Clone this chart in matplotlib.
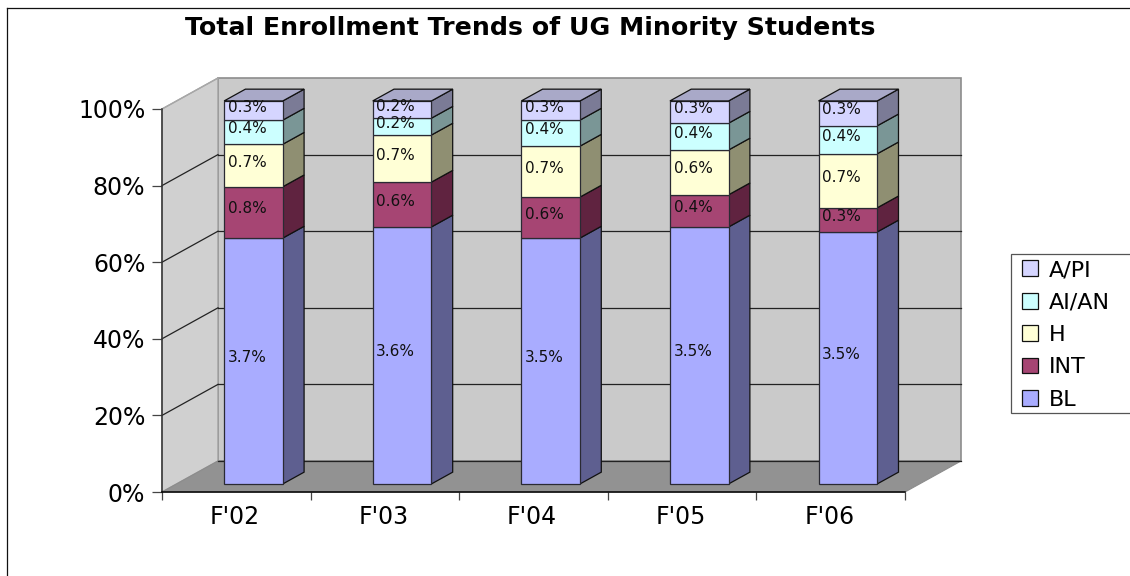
import matplotlib
matplotlib.use('Agg')
import matplotlib.pyplot as plt
from matplotlib.patches import Patch, Polygon, Rectangle

# values (share of the stacked bar, %)
years = ["F'02", "F'03", "F'04", "F'05", "F'06"]
series_names = ['BL', 'INT', 'H', 'AI/AN', 'A/PI']
bl = [64.2, 67.1, 64.2, 67.1, 65.8]
intl = [13.4, 11.7, 10.7, 8.4, 6.3]
hisp = [11.1, 12.3, 13.3, 11.7, 14.1]
ai_an = [6.3, 4.4, 6.8, 7.0, 7.3]
a_pi = [5.0, 4.5, 5.0, 5.8, 6.5]
# printed labels on the segments
bl_labels = ['3.7%', '3.6%', '3.5%', '3.5%', '3.5%']
int_labels = ['0.8%', '0.6%', '0.6%', '0.4%', '0.3%']
h_labels = ['0.7%', '0.7%', '0.7%', '0.6%', '0.7%']
ai_labels = ['0.4%', '0.2%', '0.4%', '0.4%', '0.4%']
api_labels = ['0.3%', '0.2%', '0.3%', '0.3%', '0.3%']
yticks = [0, 20, 40, 60, 80, 100]

series = [bl, intl, hisp, ai_an, a_pi]
labels = [bl_labels, int_labels, h_labels, ai_labels, api_labels]
front_colors = ['#A9ACFF', '#A64573', '#FFFFD6', '#CCFFFF', '#D5D5FF']
side_colors = ['#5E5F90', '#602340', '#8F8F72', '#7A9696', '#7B7B96']
top_color = '#A9A9C8'

W, H = 1130, 576
fig = plt.figure(figsize=(W / 100, H / 100), dpi=100, facecolor='white')
# the axes is the front plane of the fake 3D box
ax = fig.add_axes([162 / W, 1 - 492 / H, (905 - 162) / W, 383 / H])
ax.set_xlim(0, 5)
ax.set_ylim(0, 100)
ax.patch.set_visible(False)
for s in ax.spines.values():
    s.set_visible(False)

# depth of the box in data units
DX = 56 / 148.6
DY = 31 / 3.83


def pr(x, y, t):
    return (x + t * DX, y + t * DY)


def poly(points, color, edge='none', lw=0.0, z=1):
    ax.add_patch(Polygon(points, closed=True, facecolor=color, edgecolor=edge,
                         linewidth=lw, clip_on=False, zorder=z))


# walls and floor
poly([pr(0, 0, 1), pr(5, 0, 1), pr(5, 100, 1), pr(0, 100, 1)], '#CACACA', '#8C8C8C', 1.2, 1)
poly([pr(0, 0, 0), pr(0, 0, 1), pr(0, 100, 1), pr(0, 100, 0)], '#D0D0D0', '#A0A0A0', 1.0, 1)
poly([pr(0, 0, 0), pr(5, 0, 0), pr(5, 0, 1), pr(0, 0, 1)], '#929292', '#8C8C8C', 0.8, 1)

# grid
for v in yticks:
    if v < 100:
        ax.plot(*zip(pr(0, v, 1), pr(5, v, 1)), color='#222222', lw=0.9, clip_on=False, zorder=2)
    if v > 0:
        ax.plot(*zip(pr(0, v, 0), pr(0, v, 1)), color='#222222' if v < 100 else '#A8A8A8',
                lw=0.9, clip_on=False, zorder=2)

# axes lines
ax.plot([0, 0], [0, 100], color='#333333', lw=1.1, clip_on=False, zorder=3)
ax.plot([0, 5], [0, 0], color='black', lw=1.1, clip_on=False, zorder=3)
ax.set_xticks(range(6))
ax.set_xticklabels([])
ax.set_yticks(yticks)
ax.set_yticklabels([f'{v}%' for v in yticks], family='DejaVu Sans', fontsize=17)
ax.tick_params(axis='y', length=7, width=0.9, color='#444444', pad=5)
ax.tick_params(axis='x', length=6, width=0.9, color='#444444')
for i, name in enumerate(years):
    ax.annotate(name, (i + 0.5, 0), xytext=(-1, -18), textcoords='offset points', ha='center',
                va='center', fontsize=17, family='DejaVu Sans', annotation_clip=False)

# bars
bar_w = 0.395
t0, t1 = 0.26, 0.64
for i in range(len(years)):
    x0 = i + 0.32
    x1 = x0 + bar_w
    base = 0
    for k, vals in enumerate(series):
        top = base + vals[i]
        z = 10 + k
        poly([pr(x1, base, t0), pr(x1, base, t1), pr(x1, top, t1), pr(x1, top, t0)],
             side_colors[k], '#111111', 0.9, z)
        poly([pr(x0, base, t0), pr(x1, base, t0), pr(x1, top, t0), pr(x0, top, t0)],
             front_colors[k], '#2A2A33', 0.9, z)
        lx, ly = pr(x0 + bar_w / 2, (base + top) / 2, t0)
        ax.annotate(labels[k][i], (lx, ly), xytext=(-4.5, 2.5), textcoords='offset points',
                    ha='center', va='center', fontsize=11, family='DejaVu Sans', zorder=30,
                    color='#111111', annotation_clip=False)
        base = top
    poly([pr(x0, base, t0), pr(x1, base, t0), pr(x1, base, t1), pr(x0, base, t1)],
         top_color, '#111111', 0.9, 20)

# title
fig.text(530 / W, 1 - 28 / H, 'Total Enrollment Trends of UG Minority Students',
         ha='center', va='center', fontsize=18.2, fontweight='bold', family='DejaVu Sans')

# outer frame of the chart
fig.add_artist(plt.Line2D([6.5 / W, 6.5 / W], [0, 1 - 7.5 / H], color='#111111', lw=0.9))
fig.add_artist(plt.Line2D([6.5 / W, 1], [1 - 7.5 / H, 1 - 7.5 / H], color='#111111', lw=0.9))

# legend box is drawn apart, it runs off the right edge of the picture
fig.add_artist(Rectangle((1010.5 / W, 1 - 412.5 / H), 130 / W, 159 / H, transform=fig.transFigure,
                         facecolor='white', edgecolor='#555555', linewidth=0.9))
handles = [Patch(facecolor=c, edgecolor='#111111', linewidth=0.9, label=n)
           for c, n in zip(front_colors, series_names)][::-1]
fig.legend(handles=handles, loc='upper left', bbox_to_anchor=(1022 / W, 1 - 260 / H),
           borderaxespad=0, borderpad=0, frameon=False,
           prop={'family': 'DejaVu Sans', 'size': 16}, handlelength=0.72, handleheight=0.72,
           labelspacing=0.56, handletextpad=0.5)

fig.savefig('out.png', dpi=100)
